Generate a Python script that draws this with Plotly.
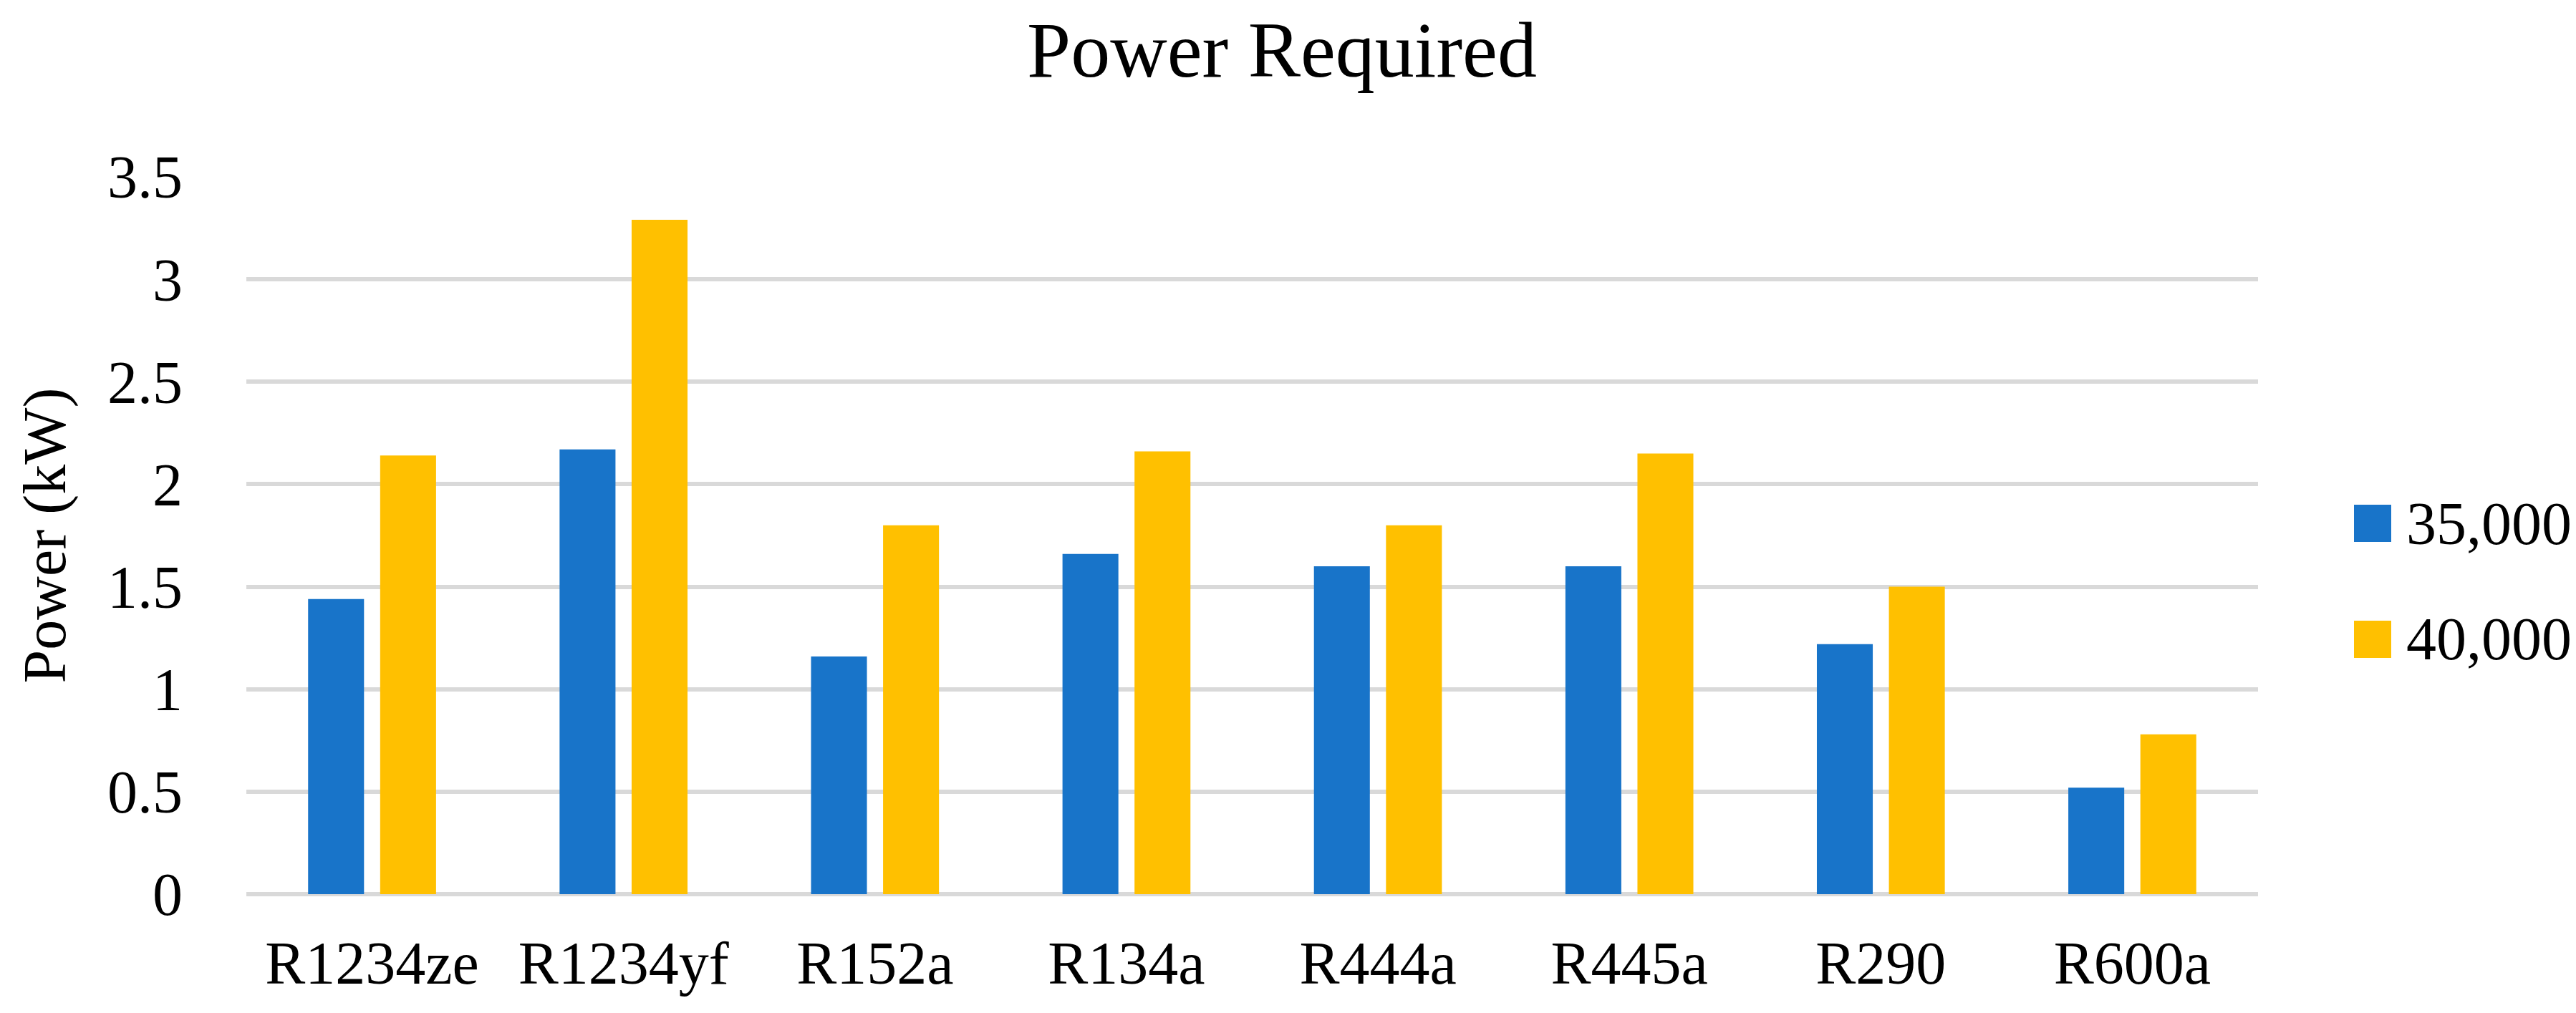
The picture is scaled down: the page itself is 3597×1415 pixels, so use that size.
import plotly.graph_objects as go

categories = ["R1234ze", "R1234yf", "R152a", "R134a", "R444a", "R445a", "R290", "R600a"]
series_names = ["35,000", "40,000"]
values_35000 = [1.44, 2.17, 1.16, 1.66, 1.60, 1.60, 1.22, 0.52]
values_40000 = [2.14, 3.29, 1.80, 2.16, 1.80, 2.15, 1.50, 0.78]
y_ticks = [0, 0.5, 1, 1.5, 2, 2.5, 3, 3.5]
y_tick_labels = ["0", "0.5", "1", "1.5", "2", "2.5", "3", "3.5"]

colors = ["#1874C9", "#FFC000"]
FONT = "Liberation Serif"

W, H = 3597, 1415
L, R, T, B = 336, W - 3145, 239, H - 1241
pw, ph = W - L - R, H - T - B


def px_x(x):
    return (x - L) / pw


def px_y(y):
    return (H - B - y) / ph


fig = go.Figure()
for name, vals, col in zip(series_names, [values_35000, values_40000], colors):
    fig.add_trace(go.Bar(x=categories, y=vals, name=name, marker=dict(color=col, line=dict(width=0)),
                         showlegend=False))

# legend drawn as large squares + labels
legend_centers = [723, 885]
for name, col, cy in zip(series_names, colors, legend_centers):
    fig.add_shape(type="rect", xref="paper", yref="paper",
                  x0=px_x(3279), x1=px_x(3331), y0=px_y(cy + 26), y1=px_y(cy - 26),
                  fillcolor=col, line=dict(width=0))
    fig.add_annotation(text=name, xref="paper", yref="paper", x=px_x(3350), y=px_y(cy),
                       xanchor="left", yanchor="middle", showarrow=False,
                       font=dict(family=FONT, size=84, color="black"))

fig.update_layout(
    width=W, height=H,
    margin=dict(l=L, r=R, t=T, b=B, autoexpand=False),
    paper_bgcolor="white", plot_bgcolor="white",
    barmode="group", bargap=0.427, bargroupgap=0.224,
    title=dict(text="Power Required", x=1782 / W, xanchor="center", xref="container",
               y=1 - 60 / H, yanchor="middle", yref="container",
               font=dict(family=FONT, size=110, color="black")),
    font=dict(family=FONT, size=84, color="black"),
)
fig.update_xaxes(showgrid=False, showline=False, zeroline=False, ticks="",
                 tickfont=dict(family=FONT, size=84, color="black"), ticklabelstandoff=40)
fig.update_yaxes(range=[0, 3.5], tickvals=y_ticks, ticktext=y_tick_labels,
                 showgrid=True, gridcolor="#D9D9D9", gridwidth=6,
                 zeroline=True, zerolinecolor="#D9D9D9", zerolinewidth=6,
                 showline=False, ticks="", ticklabelstandoff=88,
                 tickfont=dict(family=FONT, size=84, color="black"),
                 title=dict(text="Power (kW)", font=dict(family=FONT, size=84, color="black"), standoff=30),
                 automargin=True)

fig.write_html("out.html")
